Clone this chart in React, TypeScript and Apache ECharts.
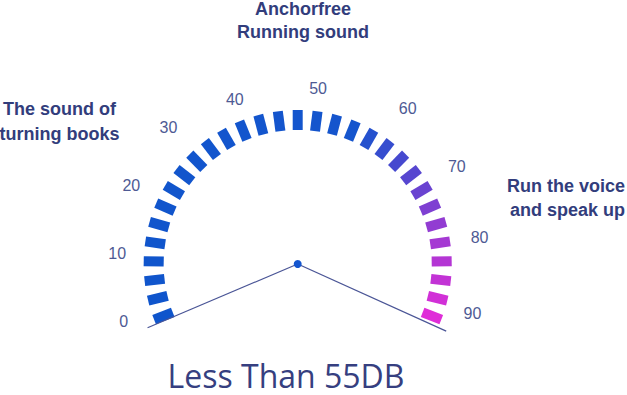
import React, { useEffect, useRef } from 'react';
import * as echarts from 'echarts';

// ---- data ----
const scaleMin = 0;
const scaleMax = 90;
// scale labels, drawn in three arcs: [min, max] of each arc
const labelGroups: [number, number][] = [
  [0, 30],
  [40, 50],
  [60, 90],
];
const labelStep = 10;
const dashSplitCount = 30; // 31 dashes
const pointerValues = [0, 90];
const topTitle = 'Anchorfree\nRunning sound';
const leftTitle = 'The sound of\nturning books';
const rightTitle = 'Run the voice\nand speak up';
const bottomText = 'Less Than 55DB';

// colour ramp for the dashes (position along the scale, colour)
const rampKeys: [number, string][] = [
  [0, '#0f55cc'],
  [0.6, '#1555cd'],
  [0.73, '#5546d0'],
  [0.87, '#a739d3'],
  [1, '#df2dd8'],
];

// layout of the three label arcs: start angle, end angle, label distance
const labelArcs = [
  { startAngle: 199.4, endAngle: 137.1, distance: -37.7 },
  { startAngle: 111.4, endAngle: 84.2, distance: -24.6 },
  { startAngle: 52.0, endAngle: -16.9, distance: -35.5 },
];

function hex(c: string) {
  return [1, 3, 5].map((i) => parseInt(c.slice(i, i + 2), 16));
}
function mix(t: number) {
  for (let k = 0; k < rampKeys.length - 1; k++) {
    const [p0, c0] = rampKeys[k];
    const [p1, c1] = rampKeys[k + 1];
    if (t <= p1) {
      const f = (t - p0) / (p1 - p0);
      const a = hex(c0);
      const b = hex(c1);
      const r = a.map((v, j) => Math.round(v + (b[j] - v) * f));
      return `rgb(${r[0]},${r[1]},${r[2]})`;
    }
  }
  return rampKeys[rampKeys.length - 1][1];
}
function buildColorList() {
  const list: [number, string][] = [];
  for (let i = 0; i < dashSplitCount; i++) {
    list.push([(i + 0.5) / dashSplitCount, mix(i / dashSplitCount)]);
  }
  list.push([1, mix(1)]);
  return list;
}

export default function App() {
  const ref = useRef<HTMLDivElement>(null);
  useEffect(() => {
    const chart = echarts.init(ref.current!, null, { renderer: 'svg' });
    const center = [297.7, 264];
    const labelCenter = [300, 258];
    const hidden = {
      axisLine: { show: false, lineStyle: { width: 0 } },
      splitLine: { show: false, length: 0, distance: 0 },
      axisTick: { show: false },
      axisLabel: { show: false },
      pointer: { show: false },
      anchor: { show: false },
      title: { show: false },
      detail: { show: false },
    };
    const titleFont = 'bold 18px "Liberation Sans", Arial, sans-serif';
    const titleColor = '#323d7c';
    const labelSeries = labelGroups.map(([lo, hi], i) => ({
      type: 'gauge',
      ...hidden,
      center: labelCenter,
      radius: 154,
      startAngle: labelArcs[i].startAngle,
      endAngle: labelArcs[i].endAngle,
      min: lo,
      max: hi,
      splitNumber: (hi - lo) / labelStep,
      axisLabel: {
        show: true,
        distance: labelArcs[i].distance,
        color: '#4e5a94',
        fontSize: 16,
        fontFamily: '"Liberation Sans", Arial, sans-serif',
      },
      data: [],
    }));
    chart.setOption({
      animation: false,
      series: [
        {
          type: 'gauge',
          ...hidden,
          center,
          radius: 154,
          startAngle: 201.2,
          endAngle: -21.2,
          min: scaleMin,
          max: scaleMax,
          splitNumber: dashSplitCount,
          axisLine: { show: false, lineStyle: { width: 0, color: buildColorList() } },
          splitLine: {
            show: true,
            length: 20,
            distance: 0,
            lineStyle: { width: 10, color: 'auto', cap: 'butt' },
          },
          data: [],
        },
        ...labelSeries,
        {
          type: 'gauge',
          ...hidden,
          center,
          radius: 154,
          startAngle: 203,
          endAngle: -24.3,
          min: scaleMin,
          max: scaleMax,
          pointer: {
            show: true,
            icon: 'rect',
            length: 163,
            width: 1.2,
            offsetCenter: [0, 0],
            itemStyle: { color: '#4a5596' },
          },
          anchor: {
            show: true,
            showAbove: true,
            size: 8,
            itemStyle: { color: '#1456cf', borderWidth: 0 },
          },
          data: pointerValues.map((v) => ({ value: v })),
        },
      ],
      graphic: [
        {
          type: 'text',
          x: 303,
          y: 20,
          style: { text: topTitle, align: 'center', verticalAlign: 'middle', lineHeight: 23, font: titleFont, fill: titleColor },
        },
        {
          type: 'text',
          x: 59.5,
          y: 121,
          style: { text: leftTitle, align: 'center', verticalAlign: 'middle', lineHeight: 25, font: titleFont, fill: titleColor },
        },
        {
          type: 'text',
          x: 625,
          y: 198,
          style: { text: rightTitle, align: 'right', verticalAlign: 'middle', lineHeight: 24, font: titleFont, fill: titleColor },
        },
        {
          type: 'text',
          x: 286,
          y: 375,
          style: {
            text: bottomText,
            align: 'center',
            verticalAlign: 'middle',
            lineHeight: 32,
            font: 'normal 32px "Open Sans", sans-serif',
            fill: '#363f80',
          },
        },
      ],
    });
    return () => chart.dispose();
  }, []);
  return <div ref={ref} style={{ position: 'absolute', left: 0, top: 0, width: 627, height: 395 }} />;
}
